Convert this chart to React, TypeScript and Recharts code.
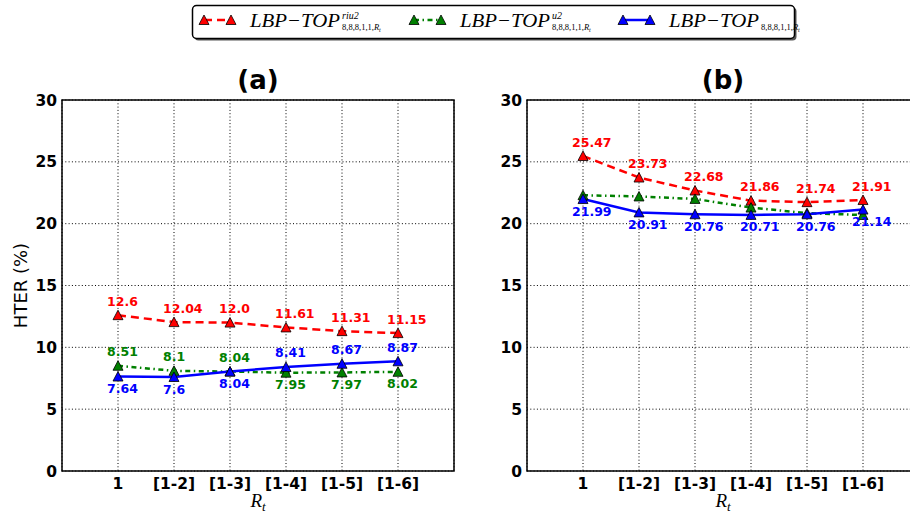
import React from 'react';
import { LineChart, Line, XAxis, YAxis, CartesianGrid, ReferenceArea, LabelList } from 'recharts';

const categories = ['1', '[1-2]', '[1-3]', '[1-4]', '[1-5]', '[1-6]'];
const positions = [1, 2, 3, 4, 5, 6];
const yTicks = [0, 5, 10, 15, 20, 25, 30];

const panelA_riu2 = [12.6, 12.04, 12.0, 11.61, 11.31, 11.15];
const panelA_u2 = [8.51, 8.1, 8.04, 7.95, 7.97, 8.02];
const panelA_plain = [7.64, 7.6, 8.04, 8.41, 8.67, 8.87];

const panelB_riu2 = [25.47, 23.73, 22.68, 21.86, 21.74, 21.91];
const panelB_u2 = [22.3, 22.2, 22.0, 21.3, 20.85, 20.7];
const panelB_plain = [21.99, 20.91, 20.76, 20.71, 20.76, 21.14];

const RED = '#ff0000';
const GREEN = '#008000';
const BLUE = '#0000ff';
const SANS = 'DejaVu Sans, Verdana, sans-serif';
const SERIF = 'Liberation Serif, DejaVu Serif, serif';

const RED_DASH = '8 5';
const GREEN_DASH = '5 3.5 1.5 3.5';

type Rule = (i: number) => 'above' | 'below' | null;

const buildRows = (riu2: number[], u2: number[], plain: number[]) =>
  positions.map((p, i) => ({ x: p, riu2: riu2[i], u2: u2[i], plain: plain[i] }));

const fmt = (v: number) => (Number.isInteger(v) ? v.toFixed(1) : String(v));

const triDot = (color: string) => (p: any) => {
  const { cx, cy, index } = p;
  if (cx == null || cy == null) return <g key={`d${index}`} />;
  return (
    <polygon
      key={`d${index}`}
      points={`${cx},${cy - 5} ${cx - 5},${cy + 4.5} ${cx + 5},${cy + 4.5}`}
      fill={color}
      stroke="#000"
      strokeWidth={0.8}
    />
  );
};

const labelContent = (color: string, rule: Rule) => (props: any) => {
  const x = props.x ?? props.viewBox?.x;
  const y = props.y ?? props.viewBox?.y;
  const idx = props.index;
  const place = rule(idx);
  if (place == null || x == null || y == null) return null;
  const dy = place === 'above' ? -14 : 12;
  return (
    <text
      key={`l${idx}`}
      x={x - 11}
      y={y + dy}
      fill={color}
      fontSize={12.5}
      fontWeight="bold"
      fontFamily={SANS}
      textAnchor="start"
      dominantBaseline="central"
    >
      {fmt(Number(props.value))}
    </text>
  );
};

const XTitle = (props: any) => {
  const vb = props.viewBox || { x: 62, y: 471, width: 392, height: 45 };
  const cx = vb.x + vb.width / 2;
  return (
    <text x={cx} y={vb.y + 36} textAnchor="middle" fontFamily={SERIF} fontStyle="italic" fontSize={19} fill="#000">
      R<tspan fontSize={13} dy={4}>t</tspan>
    </text>
  );
};

const YTitle = (props: any) => {
  const vb = props.viewBox || { x: 0, y: 100, width: 62, height: 371 };
  const cy = vb.y + vb.height / 2;
  const x = vb.x + 27;
  return (
    <text x={x} y={cy} transform={`rotate(-90 ${x} ${cy})`} textAnchor="middle" fontSize={18} fontFamily={SANS} fill="#000">
      HTER (%)
    </text>
  );
};

type PanelProps = {
  rows: any[];
  rules: { riu2: Rule; u2: Rule; plain: Rule };
  showYTitle: boolean;
};

const tickStyle = { fill: '#000', fontSize: 15.5, fontWeight: 'bold' as const, fontFamily: SANS };

function Panel({ rows, rules, showYTitle }: PanelProps) {
  return (
    <LineChart width={460} height={516} data={rows} margin={{ top: 100, right: 6, bottom: 0, left: 0 }}>
      <CartesianGrid stroke="#000" strokeDasharray="1 2.3" strokeWidth={1} />
      <XAxis
        dataKey="x"
        type="number"
        domain={[0, 7]}
        ticks={positions}
        interval={0}
        tickFormatter={(v: number) => categories[positions.indexOf(v)]}
        height={45}
        axisLine={false}
        tickLine={false}
        tickSize={0}
        tickMargin={7}
        tick={tickStyle}
        label={<XTitle />}
      />
      <YAxis
        type="number"
        domain={[0, 30]}
        ticks={yTicks}
        interval={0}
        width={62}
        axisLine={false}
        tickLine={false}
        tickSize={0}
        tickMargin={5}
        tick={tickStyle}
        label={showYTitle ? <YTitle /> : undefined}
      />
      <ReferenceArea x1={0} x2={7} y1={0} y2={30} fill="none" fillOpacity={0} stroke="#000" strokeWidth={1.5} ifOverflow="visible" />
      <Line
        dataKey="riu2"
        stroke={RED}
        strokeWidth={2.5}
        strokeDasharray={RED_DASH}
        dot={triDot(RED)}
        activeDot={false}
        isAnimationActive={false}
      >
        <LabelList dataKey="riu2" content={labelContent(RED, rules.riu2)} />
      </Line>
      <Line
        dataKey="u2"
        stroke={GREEN}
        strokeWidth={2.5}
        strokeDasharray={GREEN_DASH}
        dot={triDot(GREEN)}
        activeDot={false}
        isAnimationActive={false}
      >
        <LabelList dataKey="u2" content={labelContent(GREEN, rules.u2)} />
      </Line>
      <Line
        dataKey="plain"
        stroke={BLUE}
        strokeWidth={2.5}
        dot={triDot(BLUE)}
        activeDot={false}
        isAnimationActive={false}
      >
        <LabelList dataKey="plain" content={labelContent(BLUE, rules.plain)} />
      </Line>
    </LineChart>
  );
}

const rowsA = buildRows(panelA_riu2, panelA_u2, panelA_plain);
const rowsB = buildRows(panelB_riu2, panelB_u2, panelB_plain);

const rulesA = {
  riu2: (() => 'above') as Rule,
  u2: ((i: number) => (panelA_u2[i] >= panelA_plain[i] ? 'above' : 'below')) as Rule,
  plain: ((i: number) => (panelA_plain[i] > panelA_u2[i] ? 'above' : 'below')) as Rule,
};
const rulesB = {
  riu2: (() => 'above') as Rule,
  u2: (() => null) as Rule,
  plain: (() => 'below') as Rule,
};

const legendItems = [
  { color: RED, dash: RED_DASH, sup: 'riu2', start: 198 },
  { color: GREEN, dash: GREEN_DASH, sup: 'u2', start: 408 },
  { color: BLUE, dash: undefined as string | undefined, sup: '', start: 617 },
];

const tri = (cx: number, cy: number, color: string) => (
  <polygon points={`${cx},${cy - 5} ${cx - 5},${cy + 4.5} ${cx + 5},${cy + 4.5}`} fill={color} stroke="#000" strokeWidth={0.8} />
);

function Overlay() {
  return (
    <svg width={910} height={516} style={{ position: 'absolute', left: 0, top: 0, pointerEvents: 'none' }}>
      <text x={258} y={89} textAnchor="middle" fontSize={26} fontWeight="bold" fontFamily={SANS} fill="#000">(a)</text>
      <text x={723} y={89} textAnchor="middle" fontSize={26} fontWeight="bold" fontFamily={SANS} fill="#000">(b)</text>
      <rect x={194.5} y={7.5} width={602} height={33} rx={4} fill="#555" />
      <rect x={192.5} y={5.5} width={602} height={33} rx={4} fill="#fff" stroke="#000" strokeWidth={1.5} />
      {legendItems.map((it, k) => {
        const a = it.start + 6;
        const b = it.start + 33;
        const tx = it.start + 52;
        return (
          <g key={k}>
            <line x1={a} y1={20} x2={b} y2={20} stroke={it.color} strokeWidth={2.5} strokeDasharray={it.dash} />
            {tri(a, 20, it.color)}
            {tri(b, 20, it.color)}
            <text x={tx} y={27} fontFamily={SERIF} fill="#000">
              <tspan fontStyle="italic" fontSize={19.5} textLength={90} lengthAdjust="spacingAndGlyphs">LBP−TOP</tspan>
              {it.sup ? (
                <tspan x={tx + 92} y={19} fontStyle="italic" fontSize={10}>{it.sup}</tspan>
              ) : null}
              <tspan x={tx + 92} y={30} fontSize={8.5}>8,8,8,1,1,</tspan>
              <tspan fontSize={8.5} fontStyle="italic">R</tspan>
              <tspan fontSize={6} dy={1.5} fontStyle="italic">t</tspan>
            </text>
          </g>
        );
      })}
    </svg>
  );
}

export default function App() {
  return (
    <div style={{ position: 'fixed', left: 0, top: 0, width: 910, height: 516, overflow: 'hidden', background: '#fff' }}>
      <div style={{ position: 'absolute', left: 0, top: 0 }}>
        <Panel rows={rowsA} rules={rulesA} showYTitle={true} />
      </div>
      <div style={{ position: 'absolute', left: 465, top: 0 }}>
        <Panel rows={rowsB} rules={rulesB} showYTitle={false} />
      </div>
      <Overlay />
    </div>
  );
}
